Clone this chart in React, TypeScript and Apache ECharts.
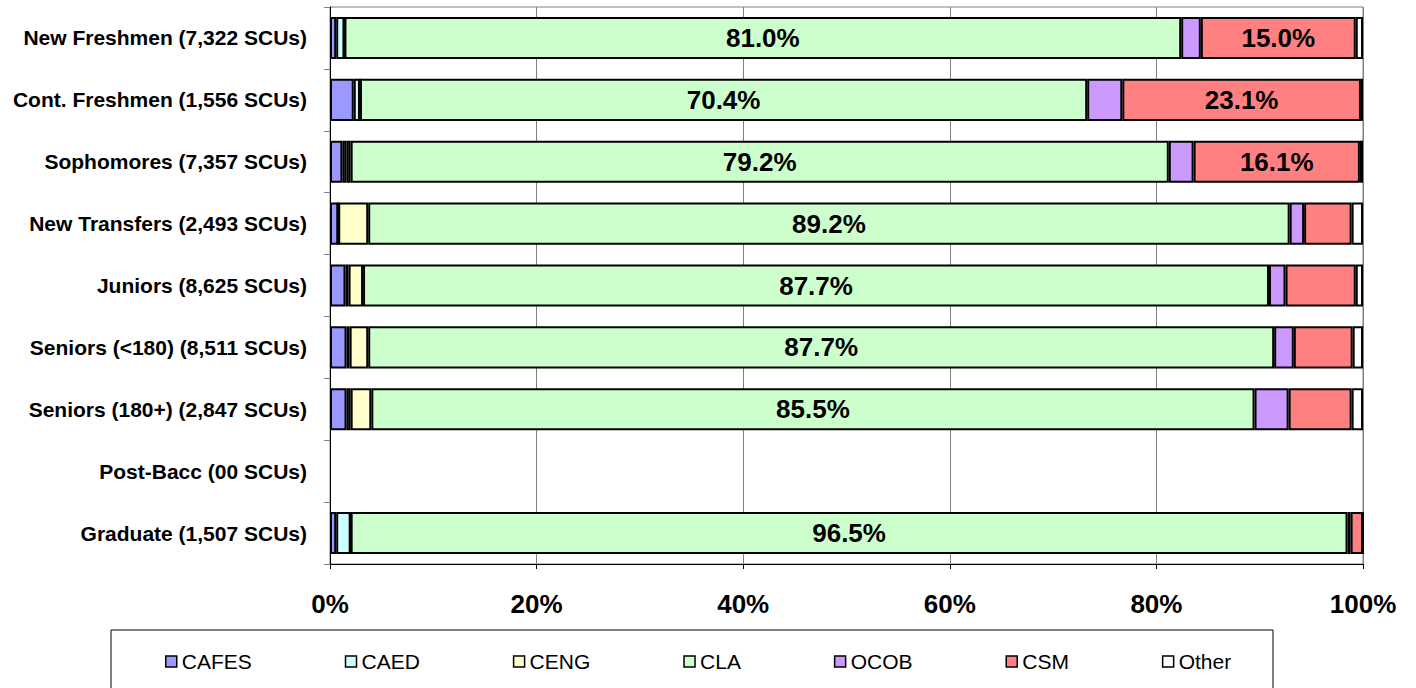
import React, { useEffect, useRef } from "react";
import * as echarts from "echarts";

const categories = [
  "New Freshmen (7,322 SCUs)",
  "Cont. Freshmen (1,556 SCUs)",
  "Sophomores (7,357 SCUs)",
  "New Transfers (2,493 SCUs)",
  "Juniors (8,625 SCUs)",
  "Seniors (<180) (8,511 SCUs)",
  "Seniors (180+) (2,847 SCUs)",
  "Post-Bacc (00 SCUs)",
  "Graduate (1,507 SCUs)",
];

const cafes = [0.6, 2.3, 1.2, 0.8, 1.5, 1.6, 1.6, null, 0.6];
const caed = [0.8, 0.6, 0.4, 0.0, 0.3, 0.3, 0.4, null, 1.4];
const ceng = [0.0, 0.0, 0.4, 2.9, 1.4, 1.8, 2.0, null, 0.0];
const cla = [81.0, 70.4, 79.2, 89.2, 87.7, 87.7, 85.5, null, 96.5];
const ocob = [1.9, 3.4, 2.4, 1.4, 1.6, 1.9, 3.3, null, 0.3];
const csm = [15.0, 23.1, 16.1, 4.6, 6.8, 5.7, 6.1, null, 1.2];
const other = [0.7, 0.2, 0.3, 1.1, 0.7, 1.0, 1.1, null, 0.0];

const xTicks = [0, 20, 40, 60, 80, 100];

const seriesDefs = [
  { name: "CAFES", data: cafes, color: "#9999FF", label: false },
  { name: "CAED", data: caed, color: "#CCFFFF", label: false },
  { name: "CENG", data: ceng, color: "#FFFFCC", label: false },
  { name: "CLA", data: cla, color: "#CCFFCC", label: true },
  { name: "OCOB", data: ocob, color: "#CC99FF", label: false },
  { name: "CSM", data: csm, color: "#FF8080", label: true },
  { name: "Other", data: other, color: "#FFFFFF", label: false },
];

const FONT = "'Liberation Sans', Arial, Helvetica, sans-serif";

export default function App() {
  const ref = useRef<HTMLDivElement>(null);
  useEffect(() => {
    if (!ref.current) return;
    const chart = echarts.init(ref.current, null, { renderer: "svg" });
    chart.setOption({
      animation: false,
      backgroundColor: "#FFFFFF",
      grid: {
        left: 330,
        right: 53,
        top: 7,
        bottom: 124,
        show: true,
        borderColor: "#808080",
        borderWidth: 1,
      },
      legend: {
        left: 160,
        top: 646,
        itemWidth: 11,
        itemHeight: 11,
        itemGap: 93,
        icon: "rect",
        itemStyle: { borderColor: "#000", borderWidth: 1.5 },
        textStyle: { fontFamily: FONT, fontSize: 21, color: "#000" },
        data: seriesDefs.map((s) => s.name),
      },
      graphic: [
        {
          type: "rect",
          shape: { x: 111, y: 630, width: 1162, height: 80 },
          style: { fill: "none", stroke: "#000", lineWidth: 1 },
          silent: true,
          z: -1,
        },
      ],
      xAxis: {
        type: "value",
        min: 0,
        max: 100,
        interval: 20,
        axisLine: { show: true, lineStyle: { color: "#000", width: 1 } },
        axisTick: { show: true, length: 5, lineStyle: { color: "#000" } },
        splitLine: { show: true, lineStyle: { color: "#808080", width: 1 } },
        axisLabel: {
          formatter: (v: number) => (xTicks.includes(v) ? v + "%" : ""),
          fontFamily: FONT,
          fontSize: 26,
          fontWeight: "bold",
          color: "#000",
          margin: 27,
        },
      },
      yAxis: {
        type: "category",
        inverse: true,
        data: categories,
        axisLine: { show: true, lineStyle: { color: "#000", width: 1 } },
        axisTick: { show: true, length: 6, lineStyle: { color: "#808080" } },
        axisLabel: {
          fontFamily: FONT,
          fontSize: 21,
          fontWeight: "bold",
          color: "#000",
          margin: 23,
        },
      },
      series: seriesDefs.map((s) => ({
        name: s.name,
        type: "bar",
        stack: "total",
        barCategoryGap: "32%",
        data: s.data.map((v) => (v === null ? "-" : v)),
        itemStyle: { color: s.color, borderColor: "#000", borderWidth: 2 },
        label: {
          show: s.label,
          position: "inside",
          fontFamily: FONT,
          fontSize: 26,
          fontWeight: "bold",
          color: "#000",
          formatter: (p: any) =>
            typeof p.value === "number" && p.value >= 10 ? p.value.toFixed(1) + "%" : "",
        },
        emphasis: { disabled: true },
      })),
    });
    return () => chart.dispose();
  }, []);
  return (
    <div
      ref={ref}
      style={{ position: "absolute", left: 0, top: 0, width: 1416, height: 688 }}
    />
  );
}
